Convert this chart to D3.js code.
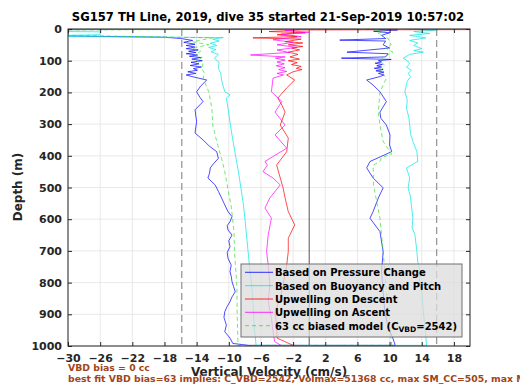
<!DOCTYPE html>
<html><head><meta charset="utf-8">
<script src="https://cdn.jsdelivr.net/npm/d3@7"></script>
<style>body{margin:0;background:#fff}svg{display:block}text{font-family:"DejaVu Sans",sans-serif;font-weight:bold}</style>
</head><body><svg id="c" width="520" height="390"></svg>
<script>
const titleText = "SG157 TH Line, 2019, dive 35 started 21-Sep-2019 10:57:02";
const xTicks = [-30,-26,-22,-18,-14,-10,-6,-2,2,6,10,14,18];
const yTicks = [0,100,200,300,400,500,600,700,800,900,1000];
const legendLabels = ["Based on Pressure Change","Based on Buoyancy and Pitch","Upwelling on Descent","Upwelling on Ascent","63 cc biased model (C"];
const dashedRefs = [-15.85, 15.85];
const noteLines = ["VBD bias = 0 cc","best fit VBD bias=63 implies: C_VBD=2542, Volmax=51368 cc, max SM_CC=505, max MAX"];

// [depth m, velocity cm/s]
const pressureDesc = [[0,8],[2,-30],[22,-30],[26,-18],[30,-16],[36,-14.5],[42,-15.6],[48,-14.2],[52,-15.3],[57,-14.2],[62,-15.3],[66,-13.8],[70,-15.0],[74,-14.1],[78,-15.3],[82,-13.9],[86,-14.9],[90,-13.5],[95,-14.6],[100,-13.3],[105,-14.7],[110,-13.7],[115,-14.8],[120,-13.4],[125,-14.4],[130,-13.9],[135,-15.1],[140,-14.1],[145,-15.3],[150,-14.6],[161,-12.75],[180,-13.5],[198,-14.0],[215,-13.6],[229,-13.2],[255,-14.2],[275,-14.1],[292,-14.0],[328,-14.2],[350,-13.2],[370,-12.4],[387,-11.5],[408,-11.3],[425,-11.9],[438,-12.3],[455,-12.4],[470,-12.6],[492,-11.7],[512,-11.3],[533,-10.9],[555,-10.5],[576,-10.1],[592,-9.6],[608,-9.85],[620,-10.2],[634,-10.1],[650,-9.6],[668,-10.0],[687,-9.85],[705,-10.2],[723,-10.1],[745,-9.7],[765,-9.85],[780,-9.7],[797,-9.6],[813,-9.4],[829,-9.2],[845,-9.6],[860,-9.85],[875,-10.2],[892,-10.5],[910,-10.6],[934,-10.3],[955,-10.5],[975,-9.85],[992,-9.5],[998,-7.5]];
const pressureAsc = [[0,7],[3,11],[7,8],[12,10],[20,9],[30,9.5],[35,3.8],[38,9.5],[50,9.2],[60,10],[73,4.7],[78,9.8],[88,9.5],[92,4.0],[96,10.2],[100,8.6],[104,9.0],[108,8.2],[112,9.1],[116,8.4],[120,9.0],[124,8.1],[128,9.2],[132,8.3],[136,9.3],[140,8.6],[145,9.3],[150,8.8],[161,7.15],[177,7.95],[198,8.8],[229,9.6],[262,8.8],[281,8.9],[303,9.6],[334,10.05],[366,10.0],[387,10.26],[418,7.56],[438,7.15],[470,7.95],[501,9.2],[533,8.6],[576,7.95],[597,7.56],[639,8.8],[702,9.2],[765,9.0],[829,9.2],[892,9.4],[944,9.85],[975,10.4],[998,10.7]];
const buoyDesc = [[0,-5],[2,-30],[8,-30],[9,-26],[18,-26],[20,-30],[24,-30],[27,-10.7],[32,-12],[38,-11.2],[45,-12.3],[52,-11.5],[58,-12.5],[65,-11.6],[72,-12.2],[80,-11.3],[92,-11.8],[105,-11.2],[124,-11.3],[140,-11.0],[161,-10.9],[180,-10.7],[198,-10.5],[208,-9.85],[218,-10.3],[250,-10.1],[303,-9.8],[350,-9.5],[408,-9.1],[450,-8.8],[501,-8.5],[550,-8.2],[597,-8.0],[650,-7.8],[702,-7.6],[755,-7.4],[808,-7.15],[860,-7.0],[913,-6.9],[960,-6.75],[998,-6.6]];
const buoyAsc = [[0,12],[3,16],[8,13],[14,15],[20,12.5],[28,14.5],[36,12.5],[44,13.5],[52,13],[62,14],[68,13],[73,14.2],[80,12.5],[92,11.7],[100,12.2],[110,12.5],[120,12.1],[130,12.7],[140,12.3],[150,12.6],[165,12.2],[198,11.9],[225,12.2],[250,12.1],[280,12.4],[303,12.5],[330,12.6],[355,12.9],[387,13.4],[418,13.5],[438,12.1],[470,12.5],[501,12.3],[530,12.6],[555,12.7],[597,12.9],[625,12.8],[650,13.15],[702,13.4],[735,13.5],[765,13.8],[800,13.7],[829,14.0],[892,14.2],[944,14.4],[998,14.6]];
const upDesc = [[0,20],[2,20],[3,-1],[8,-5],[12,-0.5],[18,-4],[24,-1.5],[28,-7],[32,-1],[40,-3],[44,-0.8],[50,-2.6],[55,-0.8],[60,-2.2],[66,-1.2],[73,-2.6],[80,-1.4],[88,-2.4],[95,-1.2],[100,-2.6],[106,-1.5],[112,-2.2],[118,-1.0],[124,-1.6],[128,-0.9],[135,-2.0],[145,-2.8],[161,-1.8],[186,-2.8],[218,-3.9],[240,-3.4],[262,-3.0],[303,-3.6],[344,-2.6],[387,-2.8],[429,-4.05],[470,-3.6],[501,-3.25],[533,-3.0],[576,-2.6],[618,-1.8],[660,-2.6],[702,-2.6],[744,-2.8],[808,-3.25],[850,-3.6],[892,-4.25],[934,-4.05],[975,-4.0],[998,-2]];
const upAsc = [[0,-1],[5,-3],[10,0],[16,-3.5],[24,-1],[34,-4.5],[42,-2],[50,-4],[58,-1.5],[66,-4],[74,-2.5],[82,-7.3],[88,-3],[92,-4.2],[98,-3.0],[104,-4.0],[110,-3.1],[116,-4.1],[122,-3.0],[128,-3.8],[134,-2.8],[140,-4.0],[145,-3.2],[155,-4.5],[198,-4.7],[229,-3.4],[262,-4.25],[303,-3.0],[334,-4.25],[376,-2.8],[418,-5.5],[429,-5.2],[450,-5.75],[470,-4.5],[492,-3.6],[533,-4.9],[565,-5.5],[597,-4.7],[650,-5.1],[702,-5.3],[744,-5.1],[808,-4.9],[860,-5.1],[913,-4.7],[955,-4.5],[986,-4.3],[998,-3.5]];
const modelDesc = [[0,8],[3,-30],[20,-30],[28,-12],[40,-14.5],[50,-12.5],[60,-14.6],[70,-13.5],[80,-14.2],[90,-13.3],[100,-14],[112,-13.2],[124,-13.4],[140,-13.0],[155,-13.2],[198,-12.5],[250,-12.1],[303,-12.0],[355,-11.5],[408,-10.9],[450,-10.5],[492,-10.2],[560,-9.7],[639,-9.35],[702,-9.3],[808,-9.0],[913,-8.95],[998,-8.85]];
const modelAsc = [[0,9],[3,8],[6,9.5],[15,8.5],[30,9.8],[50,10.2],[60,9.5],[73,10.4],[90,9.2],[100,8.8],[115,9.4],[130,8.9],[145,9.3],[155,9.6],[198,8.8],[262,8.6],[303,8.8],[355,9.2],[395,10.26],[405,9.0],[418,8.8],[430,7.95],[492,8.0],[545,8.4],[597,8.8],[650,9.0],[702,9.2],[765,9.4],[829,9.6],[892,9.85],[944,10.05],[998,10.26]];

const seriesColors = ["#0000ff","#00e5e5","#ff0000","#ff00ff","#33dd33"];

const svg = d3.select("#c");
svg.append("rect").attr("width",520).attr("height",390).attr("fill","#fff");
const L=68,R=470,T=29,B=346;
const x = d3.scaleLinear().domain([-30,20]).range([L,R]);
const y = d3.scaleLinear().domain([0,1000]).range([T,B]);
const axCol = "#262626";

// grid
const g = svg.append("g");
g.selectAll(".vg").data(xTicks).join("line").attr("x1",d=>x(d)).attr("x2",d=>x(d)).attr("y1",T).attr("y2",B).attr("stroke","#e3e3e3").attr("stroke-width",0.8);
g.selectAll(".hg").data(yTicks).join("line").attr("y1",d=>y(d)).attr("y2",d=>y(d)).attr("x1",L).attr("x2",R).attr("stroke","#e3e3e3").attr("stroke-width",0.8);

svg.append("defs").append("clipPath").attr("id","clip").append("rect").attr("x",L).attr("y",T).attr("width",R-L).attr("height",B-T);
const plot = svg.append("g").attr("clip-path","url(#clip)");

// zero line and dashed refs
plot.append("line").attr("x1",x(0)).attr("x2",x(0)).attr("y1",T).attr("y2",B).attr("stroke","#555").attr("stroke-width",1);
plot.selectAll(".dr").data(dashedRefs).join("line").attr("x1",d=>x(d)).attr("x2",d=>x(d)).attr("y1",T).attr("y2",B).attr("stroke","#999").attr("stroke-width",1.3).attr("stroke-dasharray","7,4");

const line = d3.line().x(d=>x(d[1])).y(d=>y(d[0]));
const series = [
  {d: pressureDesc.concat(pressureAsc.slice().reverse()), c: seriesColors[0]},
  {d: buoyDesc.concat(buoyAsc.slice().reverse()), c: seriesColors[1]},
  {d: upDesc, c: seriesColors[2]},
  {d: upAsc, c: seriesColors[3]},
  {d: modelDesc.concat(modelAsc.slice().reverse()), c: seriesColors[4], dash:"4,3"}
];
series.forEach(s=>{
  plot.append("path").attr("d",line(s.d)).attr("fill","none").attr("stroke",s.c).attr("stroke-width",0.7)
    .attr("stroke-dasharray",s.dash||null);
});

// axes box & ticks
svg.append("rect").attr("x",L).attr("y",T).attr("width",R-L).attr("height",B-T).attr("fill","none").attr("stroke",axCol).attr("stroke-width",1);
const gx = svg.append("g").attr("transform",`translate(0,${B})`).call(d3.axisBottom(x).tickValues(xTicks).tickSizeInner(-4).tickSizeOuter(0).tickPadding(8).tickFormat(d3.format("d")));
const gxt = svg.append("g").attr("transform",`translate(0,${T})`).call(d3.axisTop(x).tickValues(xTicks).tickSizeInner(-4).tickSizeOuter(0).tickFormat(""));
const gy = svg.append("g").attr("transform",`translate(${L},0)`).call(d3.axisLeft(y).tickValues(yTicks).tickSizeInner(-4).tickSizeOuter(0).tickPadding(6).tickFormat(d3.format("d")));
const gyr = svg.append("g").attr("transform",`translate(${R},0)`).call(d3.axisRight(y).tickValues(yTicks).tickSizeInner(-4).tickSizeOuter(0).tickFormat(""));
[gx,gxt,gy,gyr].forEach(a=>{a.select(".domain").remove(); a.selectAll("line").attr("stroke",axCol);
  a.selectAll("text").attr("fill",axCol).style("font-size","11px").style("font-family","DejaVu Sans").style("font-weight","bold");});

// titles
svg.append("text").attr("x",268).attr("y",21).attr("text-anchor","middle").style("font-size","11.6px").attr("fill","#000").text(titleText);
svg.append("text").attr("transform","translate(22,187) rotate(-90)").attr("text-anchor","middle").style("font-size","12px").attr("fill",axCol).text("Depth (m)");
svg.append("text").attr("x",269).attr("y",376).attr("text-anchor","middle").style("font-size","12px").attr("fill",axCol).text("Vertical Velocity (cm/s)");

// notes
svg.append("text").attr("x",68).attr("y",371).style("font-size","9.3px").attr("fill","#a0451a").text(noteLines[0]);
svg.append("text").attr("x",68).attr("y",382).style("font-size","9.3px").attr("fill","#a0451a").text(noteLines[1]);

// legend
const lg = svg.append("g");
lg.append("rect").attr("x",241).attr("y",264).attr("width",221).attr("height",73).attr("fill","#dcdcdc").attr("fill-opacity",0.75).attr("stroke","#707070").attr("stroke-width",1);
const rowY = [272.3,285.7,299,312.3,325.7];
legendLabels.forEach((t,i)=>{
  lg.append("line").attr("x1",245).attr("x2",273).attr("y1",rowY[i]).attr("y2",rowY[i]).attr("stroke",seriesColors[i]).attr("stroke-width",0.8).attr("stroke-dasharray",i===4?"4,3":null);
  const tx = lg.append("text").attr("x",275).attr("y",rowY[i]+3.8).style("font-size","10px").attr("fill","#000");
  tx.append("tspan").text(t);
  if(i===4){
    tx.append("tspan").attr("dy",2.5).style("font-size","7.5px").text("VBD");
    tx.append("tspan").attr("dy",-2.5).text("=2542)");
  }
});
</script></body></html>
